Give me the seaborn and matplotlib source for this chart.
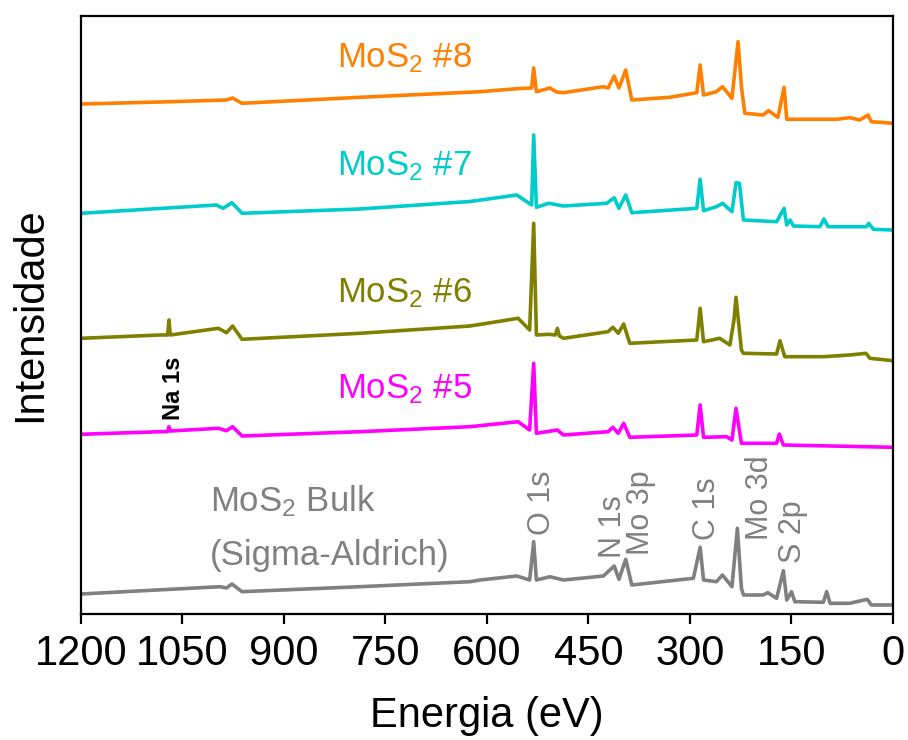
import matplotlib
matplotlib.use("Agg")
import matplotlib.pyplot as plt
from matplotlib import font_manager
import seaborn as sns
import pandas as pd

# ---------------- data (binding energy eV, intensity a.u. incl. stacking offset) -------------
energy_bulk = [1200, 995, 985, 977, 962, 788, 625, 610, 556, 537, 531, 527, 507, 487, 428, 412, 405,
               395, 386, 295, 285, 280, 261, 252, 238, 230, 224, 221, 192, 185, 172, 162, 157, 150,
               145, 103, 98, 93, 64, 38, 32, 0]
int_bulk = [20, 27.3, 26, 30, 22.3, 27.3, 32.3, 34, 38, 34, 72.3, 34, 37.3, 34, 38, 48, 34.7,
            54.7, 29, 35.7, 66.7, 34, 32.3, 39, 27.3, 85.7, 25.7, 19, 19, 21.3, 15.7, 43.3, 14, 22.3,
            12.3, 11.7, 22.3, 10.7, 10.7, 14.7, 9, 9]

energy_5 = [1200, 1083, 1072, 1070, 1068, 997, 985, 976, 962, 788, 625, 554, 537, 531, 527, 496, 487,
            421, 414, 406, 398, 389, 290, 285, 280, 246, 238, 232, 224, 172, 168, 162, 0]
int_5 = [179.7, 182.3, 182.5, 187.3, 183, 185.7, 183.3, 187.3, 178, 182.3, 187.3, 192.3, 184, 250.7,
         180.7, 184, 179, 182.3, 186.7, 180.7, 190.7, 176.7, 179, 209, 176.7, 177.3, 174, 205.7, 170.7,
         170.7, 180, 169, 166.7]

energy_6 = [1200, 1083, 1072, 1070, 1068, 997, 985, 976, 962, 788, 625, 554, 537, 531, 527, 509, 499,
            496, 493, 487, 421, 414, 406, 398, 389, 290, 285, 280, 256, 241, 235, 232, 224, 221, 172,
            167, 160, 103, 64, 40, 34, 0]
int_6 = [275.7, 279, 279, 294, 279, 285.7, 281.3, 288, 274.7, 280.7, 288, 295.7, 284, 390.7, 279,
         279.7, 279, 285.7, 278, 275.7, 282.3, 286.7, 280.7, 290, 270.7, 274, 305.7, 272.3, 275.7, 269,
         294, 316.7, 264, 260.7, 260, 273.3, 257.3, 257.3, 259, 260.7, 255.7, 253.3]

energy_7 = [1200, 1000, 990, 977, 962, 788, 625, 556, 534, 531, 527, 509, 487, 423, 412, 405, 395,
            386, 290, 285, 280, 261, 252, 238, 232, 227, 221, 172, 161, 157, 152, 147, 108, 102, 96,
            39, 36, 29, 0]
int_7 = [400.7, 409, 405.7, 411.3, 400.7, 405, 412.5, 419, 409, 479, 406.7, 410.7, 408, 410.7, 416.3,
         405.7, 419, 401.3, 405.7, 434.7, 403.3, 407.3, 410.7, 402.3, 431.3, 430.7, 394, 392.3, 405.7,
         389, 394, 388, 387.3, 395, 387.3, 387.3, 390.7, 384.7, 384]

energy_8 = [1200, 1083, 985, 976, 962, 788, 610, 556, 534, 531, 527, 507, 497, 487, 428, 421, 412,
            405, 395, 386, 330, 290, 285, 280, 261, 252, 238, 229, 224, 219, 192, 184, 170, 161, 157,
            83, 64, 49, 37, 32, 0]
int_8 = [510, 512, 514, 516, 510.7, 516.7, 522.3, 525.3, 526, 546, 522.3, 526, 522, 521.3, 527.3, 526,
         538, 526, 544, 514, 516.7, 521.3, 549, 519, 522.3, 527.3, 515.7, 572.3, 527.3, 500.7, 499,
         503.3, 496.7, 526.7, 494.7, 494.7, 496.3, 494, 499, 492.3, 490.7]

series_names = ["MoS2 Bulk", "MoS2 #5", "MoS2 #6", "MoS2 #7", "MoS2 #8"]
series_colors = ["#808080", "#FF00FF", "#808000", "#00CCCC", "#FF8000"]
series_energy = [energy_bulk, energy_5, energy_6, energy_7, energy_8]
series_int = [int_bulk, int_5, int_6, int_7, int_8]

x_ticks = [1200, 1050, 900, 750, 600, 450, 300, 150, 0]
peak_labels = ["O 1s", "N 1s", "Mo 3p", "C 1s", "Mo 3d", "S 2p"]

# ---------------- style ----------------
sns.set_style("white")
available = {f.name for f in font_manager.fontManager.ttflist}
narrow = "Liberation Sans Narrow" if "Liberation Sans Narrow" in available else None
plt.rcParams["font.family"] = ["Liberation Sans", "DejaVu Sans"]
plt.rcParams["text.color"] = "black"
plt.rcParams["axes.labelcolor"] = "black"
plt.rcParams["xtick.color"] = "black"
plt.rcParams["mathtext.fontset"] = "custom"
plt.rcParams["mathtext.rm"] = "Liberation Sans"
plt.rcParams["mathtext.it"] = "Liberation Sans"
plt.rcParams["mathtext.default"] = "regular"

fig = plt.figure(figsize=(9.08, 7.40), dpi=100)
ax = fig.add_axes([81 / 908, 1 - 614 / 740, 812 / 908, 598 / 740])


def ex(px):
    return 1200 - (px - 81) * 1200 / 812


def iy(py):
    return 614 - py


for name, col, e, i in zip(series_names, series_colors, series_energy, series_int):
    df = pd.DataFrame({"E": e, "I": i})
    sns.lineplot(data=df, x="E", y="I", color=col, linewidth=2.6, sort=False,
                 estimator=None, ax=ax)

ax.set_xlim(1200, 0)
ax.set_ylim(0, 598)
ax.set_yticks([])
ax.set_xticks(x_ticks)
ax.set_xticklabels([str(t) for t in x_ticks])
for s in ax.spines.values():
    s.set_visible(True)
    s.set_linewidth(1.6)
    s.set_color("black")
ax.tick_params(axis="x", direction="out", length=7.5, width=1.6, pad=7, bottom=True,
               color="black", labelcolor="black")
tick_font = dict(family=[narrow, "Liberation Sans"] if narrow else ["Liberation Sans"],
                 size=33 if narrow else 30)
for lab in ax.get_xticklabels():
    lab.set_fontfamily(tick_font["family"])
    lab.set_fontsize(tick_font["size"])

ax.set_xlabel("Energia (eV)", fontsize=30, labelpad=16, color="black")
ax.set_ylabel("Intensidade", fontsize=30, labelpad=22, color="black")

# series labels
lab_size = 25
ax.text(ex(337), iy(67), r"MoS$_2$ #8", color=series_colors[4], fontsize=lab_size, va="baseline")
ax.text(ex(337), iy(175), r"MoS$_2$ #7", color=series_colors[3], fontsize=lab_size, va="baseline")
ax.text(ex(337), iy(302), r"MoS$_2$ #6", color=series_colors[2], fontsize=lab_size, va="baseline")
ax.text(ex(337), iy(398), r"MoS$_2$ #5", color=series_colors[1], fontsize=lab_size, va="baseline")
ax.text(ex(210), iy(511), r"MoS$_2$ Bulk", color=series_colors[0], fontsize=lab_size, va="baseline")
ax.text(ex(210), iy(565), "(Sigma-Aldrich)", color=series_colors[0], fontsize=lab_size,
        va="baseline")

# peak labels (rotated): anchor = baseline (right edge of caps), start at bottom
peak_pos = [(550, 535), (621, 558), (649, 555), (715, 540), (768, 540), (801, 563)]
for txt, (px, py) in zip(peak_labels, peak_pos):
    ax.text(ex(px), iy(py), txt, rotation=90, rotation_mode="anchor", ha="left", va="baseline",
            color="#808080", fontsize=22)
ax.text(ex(180), iy(420), "Na 1s", rotation=90, rotation_mode="anchor", ha="left",
        va="baseline", color="black", fontsize=17, fontweight="bold")

fig.savefig("out.png", dpi=100)
